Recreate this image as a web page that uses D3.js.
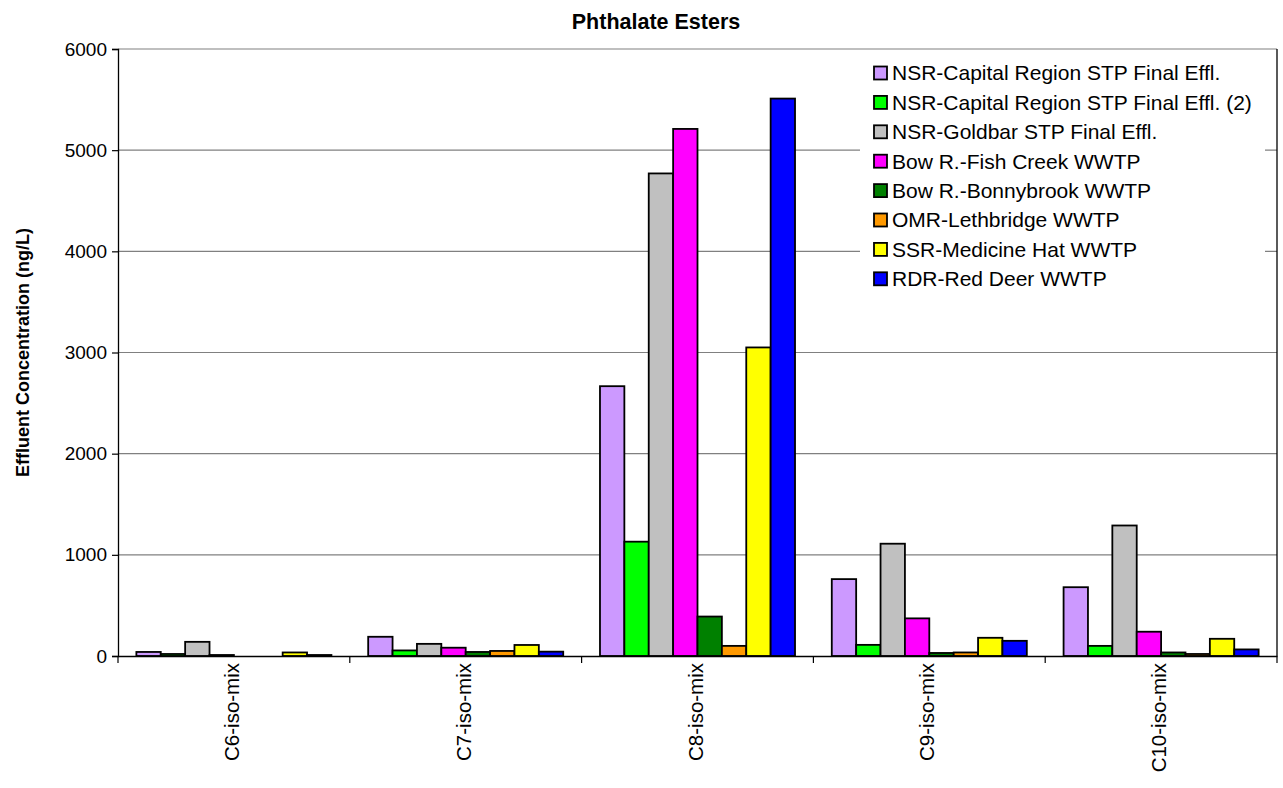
<!DOCTYPE html>
<html><head><meta charset="utf-8">
<script src="https://cdn.jsdelivr.net/npm/d3@7"></script>
<style>body{margin:0;background:#fff;} text{font-family:Arial,"Liberation Sans",sans-serif;}</style>
</head><body>
<svg id="chart" width="1283" height="788"></svg>
<script>
const categories = ["C6-iso-mix","C7-iso-mix","C8-iso-mix","C9-iso-mix","C10-iso-mix"];
const seriesNames = ["NSR-Capital Region STP Final Effl.","NSR-Capital Region STP Final Effl. (2)","NSR-Goldbar STP Final Effl.","Bow R.-Fish Creek WWTP","Bow R.-Bonnybrook WWTP","OMR-Lethbridge WWTP","SSR-Medicine Hat WWTP","RDR-Red Deer WWTP"];
const seriesColors = ["#CC99FF","#00FF00","#C0C0C0","#FF00FF","#008000","#FF9900","#FFFF00","#0000FF"];
const capitalRegion = [40, 190, 2667, 760, 680];
const capitalRegion2 = [20, 55, 1130, 110, 100];
const goldbar = [140, 120, 4770, 1110, 1290];
const fishCreek = [10, 82, 5210, 372, 240];
const bonnybrook = [0, 40, 390, 30, 35];
const lethbridge = [0, 50, 100, 35, 20];
const medicineHat = [35, 109, 3050, 180, 170];
const redDeer = [10, 43, 5510, 150, 65];
const yTicks = [0,1000,2000,3000,4000,5000,6000];
const title = "Phthalate Esters";
const yTitle = "Effluent Concentration (ng/L)";

const seriesValues = [capitalRegion, capitalRegion2, goldbar, fishCreek, bonnybrook, lethbridge, medicineHat, redDeer];
const FONT = "Arial, 'Liberation Sans', sans-serif";

const svg = d3.select("#chart");
const L = 118, R = 1277, T = 49, B = 656;
const x0 = d3.scaleBand().domain(categories).range([L, R]).paddingInner(0).paddingOuter(0);
const gw = x0.bandwidth();
const x1 = d3.scaleBand().domain(d3.range(seriesNames.length)).range([gw*0.0793, gw*(1-0.0793)]).padding(0);
const y = d3.scaleLinear().domain([0,6000]).range([B, T]);

// gridlines
svg.append("g").selectAll("line").data(yTicks.filter(d=>d>0)).join("line")
  .attr("x1", L).attr("x2", R).attr("y1", d=>y(d)).attr("y2", d=>y(d))
  .attr("stroke", "#808080").attr("stroke-width", 1.2);

// bars
const groups = svg.append("g").selectAll("g").data(categories).join("g")
  .attr("transform", c=>`translate(${x0(c)},0)`);
groups.selectAll("rect").data((c,ci)=>seriesValues.map((s,si)=>({si, v:s[ci]}))).join("rect")
  .attr("x", d=>x1(d.si)).attr("width", x1.bandwidth())
  .attr("y", d=>y(d.v)).attr("height", d=>y(0)-y(d.v))
  .attr("fill", d=>seriesColors[d.si]).attr("stroke", "#000").attr("stroke-width", 1.8);

// y axis
const yAxis = d3.axisLeft(y).tickValues(yTicks).tickSize(6).tickPadding(5).tickFormat(d3.format("d"));
const ya = svg.append("g").attr("transform", `translate(${L},0)`).call(yAxis);
ya.select(".domain").attr("stroke","#000").attr("stroke-width",1.3);
ya.selectAll(".tick line").attr("stroke","#000").attr("stroke-width",1.2);
ya.selectAll(".tick text").attr("font-size", 19).attr("fill","#000").attr("font-family",FONT);

// x axis
const xAxis = d3.axisBottom(x0).tickSize(0).tickPadding(0);
const xa = svg.append("g").attr("transform", `translate(0,${B})`).call(xAxis);
xa.select(".domain").attr("stroke","#000").attr("stroke-width",1.5);
xa.selectAll(".tick text").attr("font-size", 20.5).attr("fill","#000")
  .attr("font-family",FONT)
  .attr("transform","rotate(-90)").attr("text-anchor","end").attr("dy","0.35em").attr("x",-7).attr("y",-2);
// category boundary ticks
const bounds = categories.map(c=>x0(c)).concat([R]);
svg.append("g").selectAll("line").data(bounds).join("line")
  .attr("x1", d=>d).attr("x2", d=>d).attr("y1", B).attr("y2", B+7)
  .attr("stroke","#000").attr("stroke-width",1.2);

// right border
svg.append("line").attr("x1",R).attr("x2",R).attr("y1",T).attr("y2",B).attr("stroke","#000").attr("stroke-width",1.3);

// title
svg.append("text").attr("x", 656).attr("y", 29).attr("text-anchor","middle")
  .attr("font-size", 21.5).attr("font-weight","bold").text(title);
svg.append("text").attr("transform", `translate(29,${(T+B)/2}) rotate(-90)`).attr("text-anchor","middle")
  .attr("font-size", 18).attr("font-weight","bold").text(yTitle);

// legend
const leg = svg.append("g");
leg.append("rect").attr("x", 860).attr("y", 55).attr("width", 405).attr("height", 240).attr("fill","#fff");
const items = leg.selectAll("g").data(seriesNames).join("g")
  .attr("transform", (d,i)=>`translate(874,${73 + i*29.4})`);
items.append("rect").attr("x",0).attr("y",-6.5).attr("width",13).attr("height",13)
  .attr("fill",(d,i)=>seriesColors[i]).attr("stroke","#000").attr("stroke-width",1.8);
items.append("text").attr("x",18).attr("y",0).attr("dy","0.35em").attr("font-size",21).text(d=>d);
</script>
</body></html>
